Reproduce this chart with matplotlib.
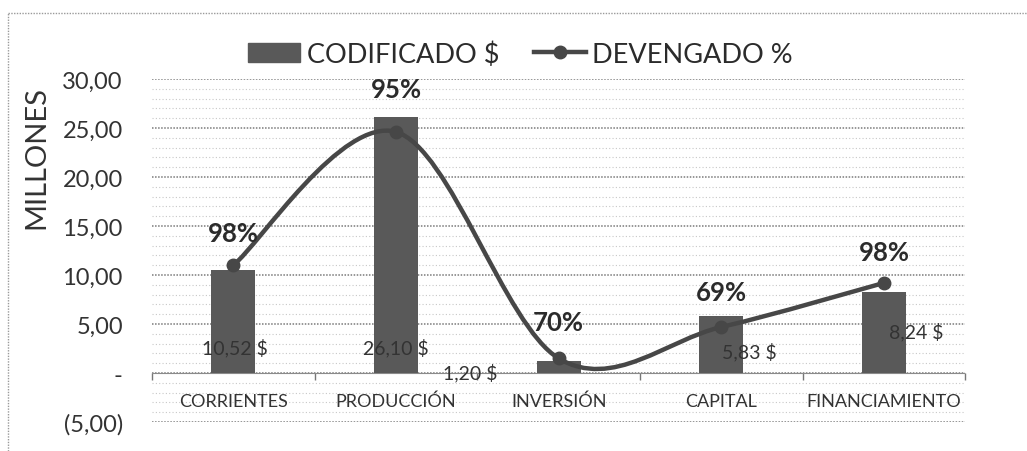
import numpy as np
import matplotlib
matplotlib.use('Agg')
from matplotlib import pyplot as plt
from matplotlib.path import Path
from matplotlib.patches import PathPatch, Rectangle
from matplotlib.lines import Line2D
from matplotlib.ticker import FixedLocator, MultipleLocator

plt.rcParams['font.family'] = ['Lato', 'DejaVu Sans']

# datos
categorias = ['CORRIENTES', 'PRODUCCIÓN', 'INVERSIÓN', 'CAPITAL', 'FINANCIAMIENTO']
codificado = [10.52, 26.10, 1.20, 5.83, 8.24]
codificado_txt = ['10,52 $', '26,10 $', '1,20 $', '5,83 $', '8,24 $']
devengado = [11.0, 24.6, 1.5, 4.7, 9.2]
devengado_pct = ['98%', '95%', '70%', '69%', '98%']
y_ticks = [-5, 0, 5, 10, 15, 20, 25, 30]
y_tick_labels = ['(5,00)', '-', '5,00', '10,00', '15,00', '20,00', '25,00', '30,00']

BAR = '#595959'
LINE = '#474747'

fig = plt.figure(figsize=(10.27, 4.52), dpi=100)
ax = fig.add_axes([0.148, 0.064, 0.792, 0.759])

x = np.arange(len(categorias))
ax.bar(x, codificado, width=0.27, color=BAR, zorder=3)


def smooth_path(xs, ys):
    # curva suavizada tipo Excel (Bezier cubica)
    pts = list(zip(xs, ys))
    n = len(pts)
    verts = [pts[0]]
    codes = [Path.MOVETO]
    for i in range(n - 1):
        p0 = pts[i - 1] if i > 0 else pts[i]
        p1 = pts[i]
        p2 = pts[i + 1]
        p3 = pts[i + 2] if i + 2 < n else pts[i + 1]
        c1 = (p1[0] + (p2[0] - p0[0]) / 6, p1[1] + (p2[1] - p0[1]) / 6)
        c2 = (p2[0] - (p3[0] - p1[0]) / 6, p2[1] - (p3[1] - p1[1]) / 6)
        verts += [c1, c2, p2]
        codes += [Path.CURVE4] * 3
    return Path(verts, codes)


ax.add_patch(PathPatch(smooth_path(x, devengado), facecolor='none', edgecolor=LINE,
                       lw=3.2, zorder=4, capstyle='round'))
ax.plot(x, devengado, 'o', color=LINE, markersize=9, zorder=5)

# etiquetas
pct_offsets = [(0, 23), (0, 31), (0, 26), (0, 25), (0, 22)]
for i, t in enumerate(devengado_pct):
    ax.annotate(t, (x[i], devengado[i]), xytext=pct_offsets[i], textcoords='offset points',
                ha='center', va='center', fontsize=18.5, fontweight='bold', color='#2b2b2b', zorder=6)

val_offsets = [(1, 19), (0, 19), (-64, 1), (20, 16), (23, 30)]
for i, t in enumerate(codificado_txt):
    ax.annotate(t, (x[i], 0), xytext=val_offsets[i], textcoords='offset points',
                ha='center', va='center', fontsize=14, color='#333333', zorder=6)

for i, c in enumerate(categorias):
    ax.text(x[i], -2.8, c, ha='center', va='center', fontsize=13, color='#333333')

ax.set_xlim(-0.5, len(categorias) - 0.5)
ax.set_ylim(-5, 30)
ax.yaxis.set_major_locator(FixedLocator(y_ticks))
ax.set_yticklabels(y_tick_labels)
ax.yaxis.set_minor_locator(MultipleLocator(1))
ax.tick_params(axis='y', which='both', length=0, pad=21, labelsize=17, colors='#333333')
ax.xaxis.set_major_locator(FixedLocator(np.arange(-0.5, len(categorias), 1.0)))
ax.tick_params(axis='x', length=5, width=1, colors='#777777', labelbottom=False, direction='out')

ax.grid(axis='y', which='major', color='#7a7a7a', linestyle=(0, (1, 1)), lw=1.1, zorder=0)
ax.grid(axis='y', which='minor', color='#c8c8c8', linestyle=(0, (1, 2)), lw=0.8, zorder=0)
for s in ['left', 'right', 'top']:
    ax.spines[s].set_visible(False)
ax.spines['bottom'].set_position(('data', 0))
ax.spines['bottom'].set_color('#8a8a8a')
ax.spines['bottom'].set_linestyle((0, (1, 1)))

fig.text(0.035, 0.652, 'MILLONES', rotation=90, ha='center', va='center', fontsize=21, color='#333333')

handles = [Rectangle((0, 0), 1, 1, color=BAR),
           Line2D([], [], color=LINE, lw=3.2, marker='o', markersize=9)]
fig.legend(handles, ['CODIFICADO $', 'DEVENGADO %'], loc='center', bbox_to_anchor=(0.507, 0.878),
           ncol=2, frameon=False, fontsize=19.5, handlelength=1.9, handleheight=0.7,
           handletextpad=0.25, columnspacing=1.3, labelcolor='#2b2b2b')

# borde punteado del grafico
fig.add_artist(Line2D([0.008, 1.0], [0.97, 0.97], transform=fig.transFigure,
                      color='#9a9a9a', lw=1, linestyle=(0, (1, 1))))
fig.add_artist(Line2D([0.008, 0.008], [0.0, 0.97], transform=fig.transFigure,
                      color='#9a9a9a', lw=1, linestyle=(0, (1, 1))))

fig.savefig('out.png', dpi=100)
